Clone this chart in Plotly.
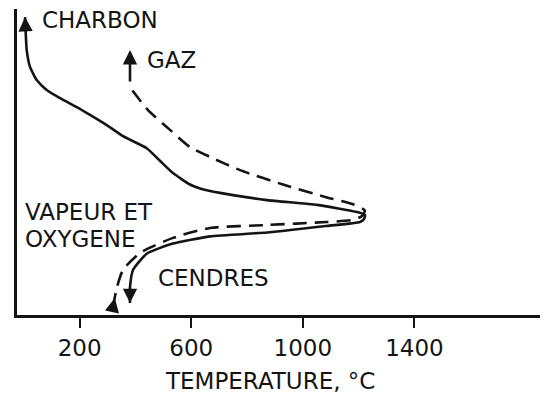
import plotly.graph_objects as go

# Temperature (°C) vs relative height in the gasifier (arbitrary 0-100)
tick_vals = [200, 600, 1000, 1400]
tick_text = ["200", "600", "1000", "1400"]

# Solid curve: coal (CHARBON) going to ashes (CENDRES)
solid_temp = [4.3, 6.8, 10.4, 22.2, 46.2, 82.1, 129.7, 189.6, 237.3, 297.1, 355.5,
              440.5, 488.1, 534.7, 595.6, 631.5, 703.2, 871.6, 1050.8, 1194.2, 1222.8,
              1219.2, 1204.9, 1086.6, 871.6, 667.3, 534.7, 441.6, 391.4, 380.6, 380.6]
solid_height = [99.3, 94.0, 88.3, 82.7, 78.3, 75.0, 72.3, 69.3, 66.7, 63.3, 59.6,
                55.6, 51.4, 47.3, 43.5, 42.2, 40.7, 38.3, 36.7, 34.3, 33.3,
                32.0, 31.0, 29.7, 27.5, 26.2, 23.8, 20.5, 15.0, 9.3, 4.0]

# Dashed curve: steam + oxygen (VAPEUR ET OXYGENE) going to gas (GAZ)
dash_temp = [319.7, 334.0, 355.5, 416.5, 534.7, 667.3, 871.6, 1086.6, 1179.8, 1212.1,
             1222.0, 1179.8, 1086.6, 928.9, 774.9, 667.3, 595.6, 523.9, 445.1, 387.7]
dash_height = [2.7, 9.3, 15.0, 20.7, 25.7, 29.0, 30.0, 31.0, 31.7, 33.0,
               34.8, 36.9, 39.2, 43.5, 48.3, 52.7, 56.0, 61.7, 68.3, 75.0]

# Gas exit arrow
gas_temp = [380.6, 380.6]
gas_height = [77.3, 88.3]

INK = "#141414"
FONT = "DejaVu Sans"

fig = go.Figure()
fig.add_trace(go.Scatter(x=solid_temp, y=solid_height, mode="lines",
                         line=dict(color=INK, width=2.6, shape="spline", smoothing=0.5),
                         hoverinfo="skip", showlegend=False))
fig.add_trace(go.Scatter(x=dash_temp, y=dash_height, mode="lines",
                         line=dict(color=INK, width=2.6, dash="14px,8px", shape="spline", smoothing=0.6),
                         hoverinfo="skip", showlegend=False))


def arrow(x_head, y_head, x_tail, y_tail):
    fig.add_annotation(x=x_head, y=y_head, ax=x_tail, ay=y_tail, xref="x", yref="y",
                       axref="x", ayref="y", showarrow=True, text="",
                       arrowhead=2, arrowsize=1.1, arrowwidth=2.6, arrowcolor=INK)


# coal arrow (top of solid curve, pointing up)
arrow(solid_temp[0], solid_height[0], solid_temp[1], solid_height[1])
# ash arrow (bottom of solid curve, pointing down)
arrow(solid_temp[-1], solid_height[-1], solid_temp[-2], solid_height[-2])
# steam/oxygen inlet arrow (bottom of dashed curve, pointing up)
f = 0.45
arrow(dash_temp[0] + f * (dash_temp[1] - dash_temp[0]),
      dash_height[0] + f * (dash_height[1] - dash_height[0]),
      dash_temp[0], dash_height[0])
# gas exit arrow
arrow(gas_temp[1], gas_height[1], gas_temp[0], gas_height[0])

# page layout: the HTML body has an 8px margin, so the figure is sized to fit the window
W, H = 553 - 16, 403 - 16
L, R, T, B = 9, 5, 1, 80
PL, PT = 17, 9          # plot-area origin in page pixels
pw, ph = W - L - R, H - T - B

labels = [
    ("CHARBON", 40, 20),
    ("GAZ", 145, 60),
    ("VAPEUR ET", 23, 212),
    ("OXYGENE", 23, 239),
    ("CENDRES", 156, 278),
]
for txt, px, py in labels:
    fig.add_annotation(x=(px - PL) / pw, y=1 - (py - PT) / ph, xref="paper", yref="paper",
                       text=txt, showarrow=False, xanchor="left", yanchor="middle",
                       font=dict(family=FONT, size=23, color=INK))

fig.add_annotation(x=(270 - PL) / pw, y=1 - (381 - PT) / ph, xref="paper", yref="paper",
                   text="TEMPERATURE, °C", showarrow=False, xanchor="center", yanchor="middle",
                   font=dict(family=FONT, size=23, color=INK))

fig.update_layout(
    width=W, height=H,
    margin=dict(l=L, r=R, t=T, b=B),
    paper_bgcolor="white", plot_bgcolor="white",
    xaxis=dict(range=[-24.4, 1850], tickvals=tick_vals, ticktext=tick_text,
               ticks="outside", ticklen=10, tickwidth=2.2, tickcolor=INK,
               showline=True, linewidth=3, linecolor=INK, showgrid=False, zeroline=False,
               tickfont=dict(family=FONT, size=23, color=INK)),
    yaxis=dict(range=[0, 102], showticklabels=False, ticks="",
               showline=True, linewidth=3, linecolor=INK, showgrid=False, zeroline=False),
)

fig.write_html("out.html")
